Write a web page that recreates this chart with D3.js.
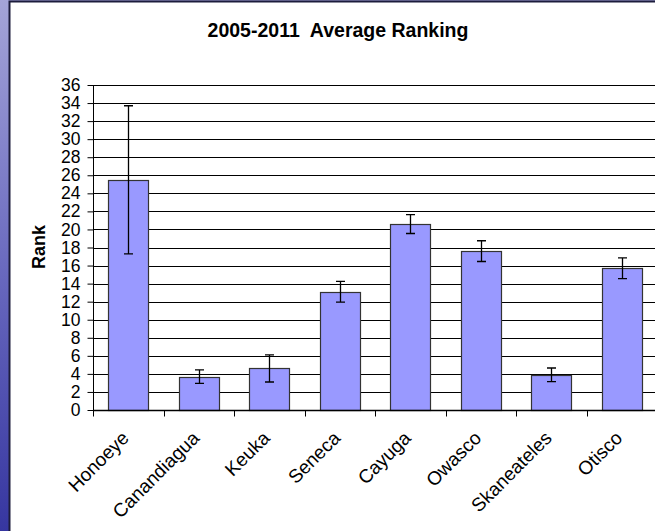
<!DOCTYPE html>
<html>
<head>
<meta charset="utf-8">
<script src="https://cdn.jsdelivr.net/npm/d3@7"></script>
<style>
  body { margin: 0; background: #fff; }
  svg { display: block; font-family: Arial, "Liberation Sans", sans-serif; }
</style>
</head>
<body>
<div id="graph"></div>
<script>
var lakes = ['Honoeye', 'Canandiagua', 'Keuka', 'Seneca', 'Cayuga', 'Owasco', 'Skaneateles', 'Otisco']
var ranks = [25.5, 3.7, 4.6, 13.1, 20.6, 17.6, 3.9, 15.7]
var errs = [8.2, 0.75, 1.5, 1.15, 1.05, 1.15, 0.75, 1.15]
var yTicks = d3.range(0, 37, 2)

var width = 655, height = 531
var svg = d3.select('#graph').append('svg')
  .attr('width', width).attr('height', height)

// slide background strip + chart frame
var grad = svg.append('defs').append('linearGradient')
  .attr('id', 'bg').attr('x1', 0).attr('y1', 0).attr('x2', 0).attr('y2', 1)
grad.append('stop').attr('offset', 0).attr('stop-color', '#a4a4d8')
grad.append('stop').attr('offset', 0.5).attr('stop-color', '#6a6abf')
grad.append('stop').attr('offset', 1).attr('stop-color', '#3636a0')
svg.append('rect').attr('width', width).attr('height', height).attr('fill', 'url(#bg)')
svg.append('rect').attr('x', 9).attr('y', 2).attr('width', width).attr('height', height)
  .attr('fill', '#fff')
svg.append('path').attr('d', 'M9.5,' + height + 'V1.5H' + width)
  .attr('fill', 'none').attr('stroke', '#1c1c3c').attr('stroke-width', 2)

var x = d3.scaleBand().domain(lakes).range([93, 657]).paddingInner(0.43).paddingOuter(0.215)
var y = d3.scaleLinear().domain([0, 36]).range([410, 85])

// gridlines
svg.append('g').selectAll('line').data(yTicks.slice(1)).join('line')
  .attr('x1', 93).attr('x2', 657)
  .attr('y1', d => Math.round(y(d)) + 0.5).attr('y2', d => Math.round(y(d)) + 0.5)
  .attr('stroke', '#000')

// bars
svg.append('g').selectAll('rect').data(lakes).join('rect')
  .attr('x', d => Math.round(x(d)) + 0.5)
  .attr('y', (d, i) => Math.round(y(ranks[i])) + 0.5)
  .attr('width', Math.round(x.bandwidth()))
  .attr('height', (d, i) => Math.round(y(0)) - Math.round(y(ranks[i])))
  .attr('fill', '#9999ff').attr('stroke', '#333').attr('stroke-width', 1.2)

// error bars
var eb = svg.append('g').attr('stroke', '#000').attr('fill', 'none')
lakes.forEach((d, i) => {
  var cx = Math.round(x(d) + x.bandwidth() / 2) + 0.5
  var hi = y(ranks[i] + errs[i]), lo = y(ranks[i] - errs[i])
  eb.append('path')
    .attr('d', `M${cx},${hi}V${lo}M${cx - 4.5},${hi}h9M${cx - 4.5},${lo}h9`)
    .attr('stroke-width', 1.3)
})

// y axis
var yAxis = svg.append('g').attr('transform', 'translate(93.5,0)')
  .call(d3.axisLeft(y).tickValues(yTicks).tickSize(6).tickPadding(7))
yAxis.select('.domain').attr('stroke', '#000').attr('d', 'M0,' + y(36) + 'V' + (y(0) + 0.5))
yAxis.selectAll('.tick line').attr('stroke', '#000')
yAxis.selectAll('.tick text').attr('font-size', 17.5).attr('fill', '#000')
  .attr('font-family', 'Arial, "Liberation Sans", sans-serif')

// x axis
var xg = svg.append('g').attr('transform', 'translate(0,' + (Math.round(y(0)) + 0.5) + ')')
xg.append('line').attr('x1', 93).attr('x2', 657).attr('stroke', '#000').attr('stroke-width', 1.5)
var step = x.step()
xg.selectAll('.tk').data(d3.range(lakes.length + 1)).join('line')
  .attr('class', 'tk')
  .attr('x1', i => Math.round(93 + i * step) + 0.5).attr('x2', i => Math.round(93 + i * step) + 0.5)
  .attr('y1', 0).attr('y2', 6).attr('stroke', '#000')
xg.selectAll('text').data(lakes).join('text')
  .attr('transform', d => `translate(${x(d) + x.bandwidth() / 2 - 3},24) rotate(-45)`)
  .attr('text-anchor', 'end').attr('font-size', 19).attr('dy', '0.35em')
  .text(d => d)

// titles
svg.append('text').attr('x', 338).attr('y', 37).attr('text-anchor', 'middle')
  .attr('font-weight', 'bold').attr('font-size', 19.5)
  .attr('xml:space', 'preserve').text('2005-2011  Average Ranking')
svg.append('text').attr('transform', 'translate(45,247) rotate(-90)')
  .attr('text-anchor', 'middle').attr('font-weight', 'bold').attr('font-size', 18)
  .text('Rank')
</script>
</body>
</html>
